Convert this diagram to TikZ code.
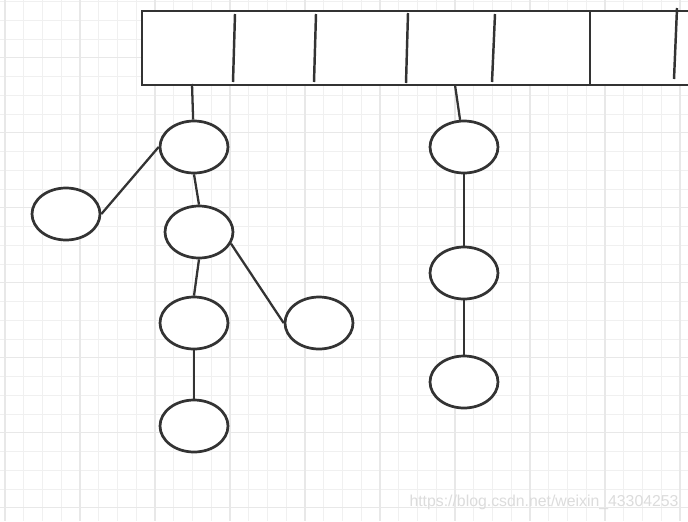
\documentclass[tikz,border=0pt]{standalone}
\usepackage{fontspec}
\setsansfont{Liberation Sans}
\usepackage{tikz}
\usetikzlibrary{
  shapes.geometric
}
\definecolor{ink}{RGB}{51,51,51}
\definecolor{gridminor}{RGB}{240,240,240}
\definecolor{gridmajor}{RGB}{232,232,232}
\definecolor{mark}{RGB}{220,220,220}
\tikzset{
  sheet/.style={ font=\sffamily },
  minorline/.style={ draw=gridminor, line width=0.6pt },
  majorline/.style={ draw=gridmajor, line width=0.7pt },
  slotbox/.style={
    draw=ink,
    fill=white,
    line width=1.6pt,
    minimum width=11.76cm,
    minimum height=1.48cm,
    inner sep=0pt,
    outer sep=0pt
  },
  divider/.style={ draw=ink, line width=1.4pt },
  treenode/.style={
    ellipse,
    draw=ink,
    fill=white,
    line width=1.55pt,
    minimum width=1.36cm,
    minimum height=1.04cm,
    inner sep=0pt
  },
  edge/.style={ draw=ink, line width=1.3pt },
  watermark/.style={
    text=mark,
    font=\sffamily\fontsize{9}{11}\selectfont
  }
}

\begin{document}
\begin{tikzpicture}[sheet, x=0.02cm, y=-0.02cm]
  \useasboundingbox (0,0) rectangle (688,521);
  \clip (0,0) rectangle (688,521);
  \fill[white] (0,0) rectangle (688,521);
  % background grid
  \foreach \k in {0,...,36} {
    \draw[minorline] ({5+18.75*\k},0) -- ({5+18.75*\k},521);
  }
  \foreach \k in {0,...,28} {
    \draw[minorline] (0,{1.7+18.75*\k}) -- (688,{1.7+18.75*\k});
  }
  \foreach \k in {0,...,9} {
    \draw[majorline] ({5+75*\k},0) -- ({5+75*\k},521);
  }
  \foreach \k in {0,...,6} {
    \draw[majorline] (0,{57.3+75*\k}) -- (688,{57.3+75*\k});
  }

  % the slot array
  \node[slotbox, anchor=north west] (slots) at (142,11) {};
  \foreach \xt/\xb/\yt/\yb in {235/233/14/82, 316/314/14/82, 408/406/13/83,
                               495/492/14/82, 590/590/11/85, 677/674/8/79} {
    \draw[divider] (\xt,\yt) -- (\xb,\yb);
  }
  \coordinate (slotA) at (192,84);
  \coordinate (slotD) at (455,85);

  % left tree
  \node[treenode] (nA) at (194,147) {};
  \node[treenode] (nB) at (66,214) {};
  \node[treenode] (nC) at (199,232) {};
  \node[treenode] (nD) at (194,323) {};
  \node[treenode] (nE) at (319,323) {};
  \node[treenode] (nF) at (194,426) {};
  % right chain
  \node[treenode] (nG) at (464,147) {};
  \node[treenode] (nH) at (464,273) {};
  \node[treenode] (nI) at (464,382) {};

  \draw[edge] (slotA) -- (nA);
  \draw[edge] (nA.west) -- (nB.east);
  \draw[edge] (nA.south) -- (nC.north);
  \draw[edge] (nC.south) -- (nD.north);
  \draw[edge] (nC.-20) -- (nE.west);
  \draw[edge] (nD.south) -- (nF.north);
  \draw[edge] (slotD) -- (nG);
  \draw[edge] (nG.south) -- (nH.north);
  \draw[edge] (nH.south) -- (nI.north);

  \node[watermark] (url) at (544,502) {https://blog.csdn.net/weixin\_43304253};
\end{tikzpicture}
\end{document}
